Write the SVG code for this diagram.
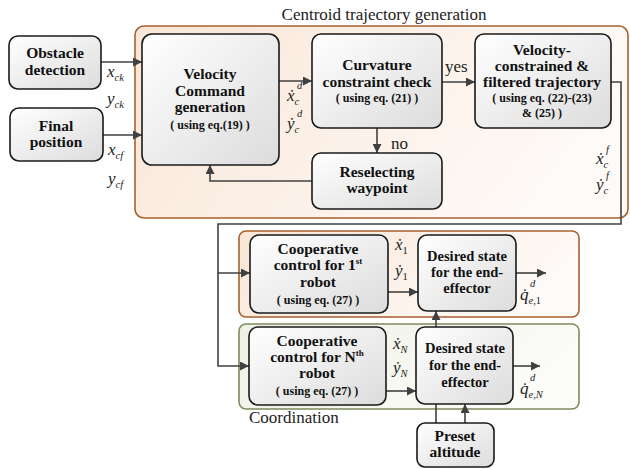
<svg xmlns="http://www.w3.org/2000/svg" width="630" height="469" viewBox="0 0 630 469">
<defs>
<linearGradient id="gNode" x1="0" y1="0" x2="1" y2="1">
<stop offset="0" stop-color="#ffffff"/>
<stop offset="1" stop-color="#dcdcdc"/>
</linearGradient>
<linearGradient id="gOrange" x1="0" y1="0" x2="1" y2="0.3">
<stop offset="0" stop-color="#f9e6d6"/>
<stop offset="1" stop-color="#fefaf7"/>
</linearGradient>
<linearGradient id="gGreen" x1="0" y1="0" x2="1" y2="0.3">
<stop offset="0" stop-color="#eef1e5"/>
<stop offset="1" stop-color="#fbfcf8"/>
</linearGradient>
<marker id="arr" viewBox="0 0 10 10" refX="10" refY="5" markerWidth="10" markerHeight="9" markerUnits="userSpaceOnUse" orient="auto">
<path d="M0,0 L10,5 L0,10 z" fill="#404040"/>
</marker>
</defs>
<style>
text{font-family:'Liberation Serif',Tinos,'Times New Roman',Times,'Nimbus Roman','DejaVu Serif',serif}
.node{fill:url(#gNode);stroke:#1a1a1a;stroke-width:1.6}
.t{font-weight:bold;font-size:15.5px;text-anchor:middle;fill:#111}
.d{font-weight:bold;font-size:14.5px;text-anchor:middle;fill:#111}
.s{font-weight:bold;font-size:12px;text-anchor:middle;fill:#111}
.m{font-style:italic;font-size:17px;fill:#222}
.sub{font-size:10.5px}
.lbl{font-size:17px;fill:#222}
.c{fill:none;stroke:#404040;stroke-width:1.6}
.a{marker-end:url(#arr)}
</style>

<g id="group-centroid">
<rect x="135" y="26" width="493" height="192" rx="9" fill="url(#gOrange)" stroke="#a8602e" stroke-width="1.6"/>
<text class="lbl" x="384" y="20" text-anchor="middle">Centroid trajectory generation</text>
</g>
<g id="group-coord1">
<rect x="239" y="231" width="340" height="86" rx="7" fill="url(#gOrange)" stroke="#a8602e" stroke-width="1.6"/>
</g>
<g id="group-coordN">
<rect x="239" y="324" width="340" height="85" rx="7" fill="url(#gGreen)" stroke="#7d8c5c" stroke-width="1.6"/>
<text class="lbl" x="249" y="423">Coordination</text>
</g>

<g id="connectors">
<path class="c a" d="M101,62 H142"/>
<path class="c a" d="M103,135 H142"/>
<path class="c a" d="M279,81 H312"/>
<path class="c a" d="M442,82 H475"/>
<path class="c a" d="M377,128 V153"/>
<path class="c a" d="M312,181 H210 V165"/>
<path class="c a" d="M611,82 H621 V224 H218 V273 H250"/>
<path class="c a" d="M218,273 V366 H249"/>
<path class="c a" d="M388,292 H418"/>
<path class="c a" d="M516,273 H546"/>
<path class="c a" d="M386,391 H416"/>
<path class="c a" d="M513,366 H540"/>
<path class="c a" d="M436,327 V311"/>
<path class="c a" d="M465,423 V404"/>
<path class="c" d="M436,423 V404"/>
</g>

<g id="obstacle-detection">
<rect class="node" x="9" y="36" width="92" height="53" rx="9"/>
<text class="t" x="55" y="58">Obstacle</text>
<text class="t" x="55" y="75">detection</text>
</g>
<g id="final-position">
<rect class="node" x="10" y="108" width="93" height="53" rx="9"/>
<text class="t" x="56" y="131">Final</text>
<text class="t" x="56" y="147">position</text>
</g>
<g id="velocity-command">
<rect class="node" x="142" y="34" width="137" height="131" rx="10"/>
<text class="t" x="210" y="79">Velocity</text>
<text class="t" x="210" y="96">Command</text>
<text class="t" x="210" y="112">generation</text>
<text class="s" x="210" y="129">( using eq.(19) )</text>
</g>
<g id="curvature-check">
<rect class="node" x="312" y="34" width="130" height="94" rx="9"/>
<text class="t" x="377" y="70">Curvature</text>
<text class="t" x="377" y="87">constraint check</text>
<text class="s" x="377" y="102">( using eq. (21) )</text>
</g>
<g id="velocity-constrained">
<rect class="node" x="475" y="34" width="136" height="94" rx="9"/>
<text class="t" x="542" y="55">Velocity-</text>
<text class="t" x="542" y="71">constrained &amp;</text>
<text class="t" x="542" y="87">filtered trajectory</text>
<text class="s" x="542" y="102">( using eq. (22)-(23)</text>
<text class="s" x="542" y="117">&amp; (25) )</text>
</g>
<g id="reselecting-waypoint">
<rect class="node" x="312" y="153" width="130" height="56" rx="9"/>
<text class="t" x="377" y="177">Reselecting</text>
<text class="t" x="377" y="193">waypoint</text>
</g>
<g id="coop-1">
<rect class="node" x="250" y="235" width="138" height="78" rx="9"/>
<text class="t" x="318" y="254">Cooperative</text>
<text class="t" x="318" y="270">control for 1<tspan font-size="9" dy="-6">st</tspan></text>
<text class="t" x="318" y="287">robot</text>
<text class="s" x="318" y="304">( using eq. (27) )</text>
</g>
<g id="desired-1">
<rect class="node" x="418" y="235" width="98" height="76" rx="9"/>
<text class="d" x="467" y="261">Desired state</text>
<text class="d" x="467" y="277">for the end-</text>
<text class="d" x="467" y="293">effector</text>
</g>
<g id="coop-N">
<rect class="node" x="249" y="327" width="137" height="78" rx="9"/>
<text class="t" x="317" y="346">Cooperative</text>
<text class="t" x="317" y="362">control for N<tspan font-size="9" dy="-6">th</tspan></text>
<text class="t" x="317" y="378">robot</text>
<text class="s" x="317" y="395">( using eq. (27) )</text>
</g>
<g id="desired-N">
<rect class="node" x="416" y="327" width="97" height="77" rx="9"/>
<text class="d" x="465" y="353">Desired state</text>
<text class="d" x="465" y="370">for the end-</text>
<text class="d" x="465" y="387">effector</text>
</g>
<g id="preset-altitude">
<rect class="node" x="417" y="423" width="77" height="44" rx="8"/>
<text class="t" x="455" y="441">Preset</text>
<text class="t" x="455" y="457">altitude</text>
</g>

<g id="labels">
<text class="m" x="107" y="77">x<tspan class="sub" dy="4">ck</tspan></text>
<text class="m" x="107" y="104">y<tspan class="sub" dy="4">ck</tspan></text>
<text class="m" x="108" y="155">x<tspan class="sub" dy="4">cf</tspan></text>
<text class="m" x="108" y="184">y<tspan class="sub" dy="4">cf</tspan></text>
<text class="m" x="287" y="101">ẋ<tspan class="sub" dy="4">c</tspan></text>
<text class="m sub" x="297" y="89">d</text>
<text class="m" x="287" y="129">ẏ<tspan class="sub" dy="4">c</tspan></text>
<text class="m sub" x="297" y="117">d</text>
<text class="m" x="596" y="164">ẋ<tspan class="sub" dy="4">c</tspan></text>
<text class="m sub" x="606" y="153">f</text>
<text class="m" x="596" y="190">ẏ<tspan class="sub" dy="4">c</tspan></text>
<text class="m sub" x="606" y="179">f</text>
<text class="m" x="395" y="250">ẋ<tspan class="sub" font-style="normal" dy="4">1</tspan></text>
<text class="m" x="395" y="276">ẏ<tspan class="sub" font-style="normal" dy="4">1</tspan></text>
<text class="m" x="393" y="349">ẋ<tspan class="sub" dy="4">N</tspan></text>
<text class="m" x="393" y="373">ẏ<tspan class="sub" dy="4">N</tspan></text>
<text class="m" x="520" y="300">q̇<tspan class="sub" dy="4">e,</tspan><tspan class="sub" font-style="normal">1</tspan></text>
<text class="m sub" x="530" y="287">d</text>
<text class="m" x="520" y="394">q̇<tspan class="sub" dy="4">e,N</tspan></text>
<text class="m sub" x="530" y="381">d</text>
<text class="lbl" x="445" y="72">yes</text>
<text class="lbl" x="391" y="149">no</text>
</g>
</svg>
